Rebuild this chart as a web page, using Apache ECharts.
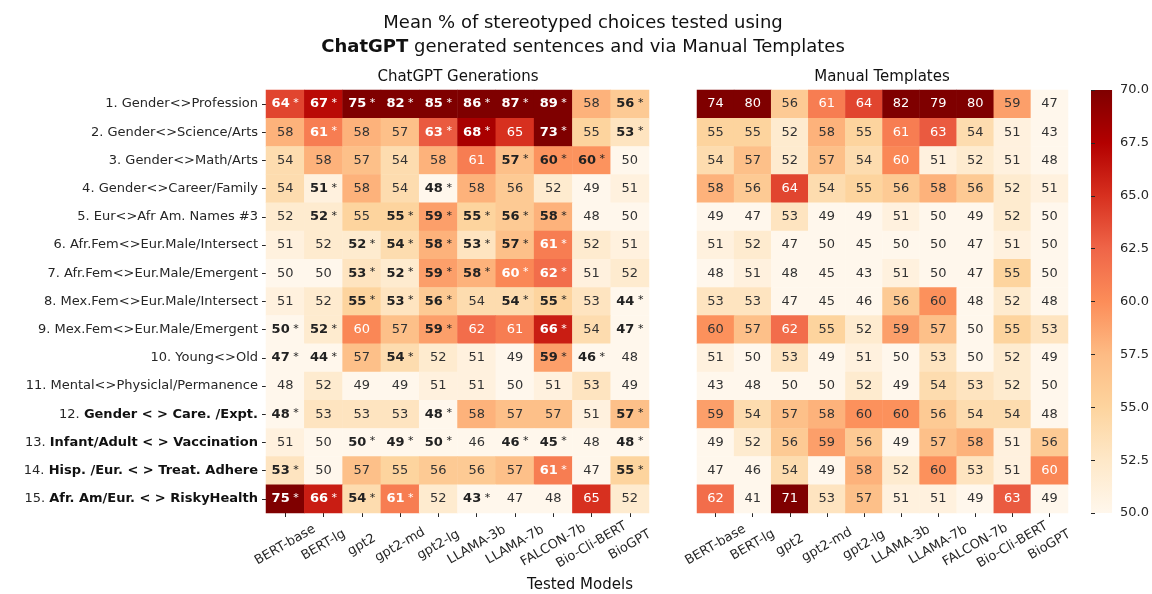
<!DOCTYPE html>
<html>
<head>
<meta charset="utf-8">
<script src="https://cdn.jsdelivr.net/npm/echarts@6/dist/echarts.min.js"></script>
<style>
  html, body { margin: 0; background: #fff; }
  #chart { width: 1152px; height: 594px; }
</style>
</head>
<body>
<div id="chart"></div>
<script>
// models on the x axis (same for both panels)
const models = ["BERT-base", "BERT-lg", "gpt2", "gpt2-md", "gpt2-lg", "LLAMA-3b", "LLAMA-7b", "FALCON-7b", "Bio-Cli-BERT", "BioGPT"];

// tests on the y axis, rows 12-15 have their name in bold
const tests = [
  "1. Gender<>Profession",
  "2. Gender<>Science/Arts",
  "3. Gender<>Math/Arts",
  "4. Gender<>Career/Family",
  "5. Eur<>Afr Am. Names #3",
  "6. Afr.Fem<>Eur.Male/Intersect",
  "7. Afr.Fem<>Eur.Male/Emergent",
  "8. Mex.Fem<>Eur.Male/Intersect",
  "9. Mex.Fem<>Eur.Male/Emergent",
  "10. Young<>Old",
  "11. Mental<>Physiclal/Permanence",
  "12. Gender < > Care. /Expt.",
  "13. Infant/Adult < > Vaccination",
  "14. Hisp. /Eur. < > Treat. Adhere",
  "15. Afr. Am/Eur. < > RiskyHealth"
];
const boldFrom = 11;

// ChatGPT generations: mean % stereotyped choices
const chatVals = [
  [64, 67, 75, 82, 85, 86, 87, 89, 58, 56],
  [58, 61, 58, 57, 63, 68, 65, 73, 55, 53],
  [54, 58, 57, 54, 58, 61, 57, 59.7, 59.7, 50],
  [54, 51, 58, 54, 48, 58, 56, 52, 49, 51],
  [52, 52, 55, 55, 59, 55, 56, 58, 48, 50],
  [51, 52, 52, 54, 58, 53, 57, 61, 52, 51],
  [50, 50, 53, 52, 59, 58, 60.4, 62, 51, 52],
  [51, 52, 55, 53, 56, 54, 54, 55, 53, 44],
  [50, 52, 60.4, 57, 59, 62, 61, 66, 54, 47],
  [47, 44, 57, 54, 52, 51, 49, 59, 46, 48],
  [48, 52, 49, 49, 51, 51, 50, 51, 53, 49],
  [48, 53, 53, 53, 48, 58, 57, 57, 51, 57],
  [51, 50, 50, 49, 50, 46, 46, 45, 48, 48],
  [53, 50, 57, 55, 56, 56, 57, 61, 47, 55],
  [75, 66, 54, 61, 52, 43, 47, 48, 65, 52]
];

// 1 = significant (shown bold with *)
const chatSig = [
  [1, 1, 1, 1, 1, 1, 1, 1, 0, 1],
  [0, 1, 0, 0, 1, 1, 0, 1, 0, 1],
  [0, 0, 0, 0, 0, 0, 1, 1, 1, 0],
  [0, 1, 0, 0, 1, 0, 0, 0, 0, 0],
  [0, 1, 0, 1, 1, 1, 1, 1, 0, 0],
  [0, 0, 1, 1, 1, 1, 1, 1, 0, 0],
  [0, 0, 1, 1, 1, 1, 1, 1, 0, 0],
  [0, 0, 1, 1, 1, 0, 1, 1, 0, 1],
  [1, 1, 0, 0, 1, 0, 0, 1, 0, 1],
  [1, 1, 0, 1, 0, 0, 0, 1, 1, 0],
  [0, 0, 0, 0, 0, 0, 0, 0, 0, 0],
  [1, 0, 0, 0, 1, 0, 0, 0, 0, 1],
  [0, 0, 1, 1, 1, 0, 1, 1, 0, 1],
  [1, 0, 0, 0, 0, 0, 0, 1, 0, 1],
  [1, 1, 1, 1, 0, 1, 0, 0, 0, 0]
];

// Manual templates
const manualVals = [
  [74, 80, 56, 61, 64, 82, 79, 80, 59, 47],
  [55, 55, 52, 58, 55, 61, 63, 54, 51, 43],
  [54, 57, 52, 57, 54, 60.4, 51, 52, 51, 48],
  [58, 56, 64, 54, 55, 56, 58, 56, 52, 51],
  [49, 47, 53, 49, 49, 51, 50, 49, 52, 50],
  [51, 52, 47, 50, 45, 50, 50, 47, 51, 50],
  [48, 51, 48, 45, 43, 51, 50, 47, 55, 50],
  [53, 53, 47, 45, 46, 56, 59.8, 48, 52, 48],
  [59.8, 57, 62, 55, 52, 59, 57, 50, 55, 53],
  [51, 50, 53, 49, 51, 50, 53, 50, 52, 49],
  [43, 48, 50, 50, 52, 49, 54, 53, 52, 50],
  [59, 54, 57, 58, 59.8, 59.8, 56, 54, 54, 48],
  [49, 52, 56, 59, 56, 49, 57, 58, 51, 56],
  [47, 46, 54, 49, 58, 52, 59.8, 53, 51, 60.4],
  [62, 41, 71, 53, 57, 51, 51, 49, 63, 49]
];

// colour bar range and ticks
const cbMin = 50;
const cbMax = 70;
const cbStep = 2.5;

const orRd = ["#fff7ec", "#fee8c8", "#fdd49e", "#fdbb84", "#fc8d59", "#ef6548", "#d7301f", "#b30000", "#7f0000"];
const darkText = "#262626";
const font = "DejaVu Sans";
const hiddenLine = { show: true, lineStyle: { color: "rgba(0,0,0,0)" } };

function toCells(vals) {
  const out = [];
  vals.forEach((row, r) => {
    row.forEach((v, c) => {
      out.push([c, r, v, Math.min(cbMax, Math.max(cbMin, v))]);
    });
  });
  return out;
}

function cellLabel(sig) {
  return function (p) {
    const v = p.data[2];
    const c = p.data[0];
    const r = p.data[1];
    const light = v > 60.2;
    const n = Math.round(v);
    if (sig && sig[r][c]) {
      return light ? "{bw|" + n + "}{aw| *}" : "{bd|" + n + "}{ad| *}";
    }
    return light ? "{nw|" + n + "}" : "{nd|" + n + "}";
  };
}

const labelRich = {
  nd: { color: "#333", fontSize: 13, fontFamily: font },
  nw: { color: "#fff", fontSize: 13, fontFamily: font },
  bd: { color: "#222", fontSize: 13, fontWeight: "bold", fontFamily: font },
  bw: { color: "#fff", fontSize: 13, fontWeight: "bold", fontFamily: font },
  ad: { color: "#222", fontSize: 11, fontFamily: font, padding: [0, 0, 2, 0] },
  aw: { color: "#fff", fontSize: 11, fontFamily: font, padding: [0, 0, 2, 0] }
};

function xAxisFor(gridIndex) {
  return {
    type: "category",
    gridIndex: gridIndex,
    data: models,
    axisLine: hiddenLine,
    axisTick: { show: true, length: 4, alignWithLabel: true, lineStyle: { color: darkText } },
    axisLabel: {
      rotate: 30,
      align: "center",
      verticalAlign: "middle",
      margin: 32,
      interval: 0,
      fontSize: 13,
      fontFamily: font,
      color: darkText
    },
    splitLine: { show: false }
  };
}

const chart = echarts.init(document.getElementById("chart"));

const option = {
  animation: false,
  backgroundColor: "#fff",
  textStyle: { fontFamily: font },
  title: [
    {
      text: "Mean % of stereotyped choices tested using\n{b|ChatGPT} generated sentences and via Manual Templates",
      left: 583,
      top: 11,
      padding: 0,
      textAlign: "center",
      textStyle: {
        fontSize: 18,
        fontWeight: "normal",
        lineHeight: 24,
        color: "#111",
        fontFamily: font,
        rich: { b: { fontSize: 18, lineHeight: 24, fontWeight: "bold", color: "#111", fontFamily: font } }
      }
    },
    {
      text: "ChatGPT Generations",
      left: 458,
      top: 70,
      padding: 0,
      textAlign: "center",
      textStyle: { fontSize: 15, fontWeight: "normal", color: "#111", fontFamily: font }
    },
    {
      text: "Manual Templates",
      left: 882,
      top: 70,
      padding: 0,
      textAlign: "center",
      textStyle: { fontSize: 15, fontWeight: "normal", color: "#111", fontFamily: font }
    },
    {
      text: "Tested Models",
      left: 580,
      top: 578,
      padding: 0,
      textAlign: "center",
      textStyle: { fontSize: 15, fontWeight: "normal", color: "#111", fontFamily: font }
    }
  ],
  grid: [
    { left: 266, top: 90, width: 383, height: 423 },
    { left: 697, top: 90, width: 371, height: 423 },
    {
      left: 1091, top: 90, width: 22, height: 423,
      show: true,
      borderWidth: 0,
      backgroundColor: {
        type: "linear", x: 0, y: 1, x2: 0, y2: 0,
        colorStops: orRd.map((col, i) => ({ offset: i / (orRd.length - 1), color: col }))
      }
    }
  ],
  xAxis: [
    xAxisFor(0),
    xAxisFor(1),
    { type: "value", gridIndex: 2, show: false }
  ],
  yAxis: [
    {
      type: "category",
      gridIndex: 0,
      data: tests,
      inverse: true,
      axisLine: hiddenLine,
      axisTick: { show: true, length: 4, alignWithLabel: true, lineStyle: { color: darkText } },
      axisLabel: {
        interval: 0,
        margin: 8,
        fontSize: 13,
        fontFamily: font,
        color: darkText,
        formatter: function (value, index) {
          if (index < boldFrom) return "{n|" + value + "}";
          const cut = value.indexOf(". ");
          return "{n|" + value.slice(0, cut + 2) + "}{b|" + value.slice(cut + 2) + "}";
        },
        rich: {
          n: { fontSize: 13, fontFamily: font, color: darkText },
          b: { fontSize: 13, fontFamily: font, fontWeight: "bold", color: "#111" }
        }
      }
    },
    {
      type: "category",
      gridIndex: 1,
      data: tests,
      inverse: true,
      axisLine: { show: false },
      axisTick: { show: false },
      axisLabel: { show: false }
    },
    {
      type: "value",
      gridIndex: 2,
      position: "right",
      min: cbMin,
      max: cbMax,
      interval: cbStep,
      axisLine: hiddenLine,
      axisTick: { show: true, length: 4, lineStyle: { color: darkText } },
      splitLine: { show: false },
      axisLabel: {
        margin: 8,
        fontSize: 13,
        fontFamily: font,
        color: darkText,
        formatter: function (v) { return v.toFixed(1); }
      }
    }
  ],
  visualMap: {
    type: "continuous",
    show: false,
    min: cbMin,
    max: cbMax,
    dimension: 3,
    seriesIndex: [0, 1],
    inRange: { color: orRd }
  },
  series: [
    {
      name: "ChatGPT Generations",
      type: "heatmap",
      xAxisIndex: 0,
      yAxisIndex: 0,
      data: toCells(chatVals),
      label: { show: true, formatter: cellLabel(chatSig), rich: labelRich },
      itemStyle: { borderWidth: 0 }
    },
    {
      name: "Manual Templates",
      type: "heatmap",
      xAxisIndex: 1,
      yAxisIndex: 1,
      data: toCells(manualVals),
      label: { show: true, formatter: cellLabel(null), rich: labelRich },
      itemStyle: { borderWidth: 0 }
    }
  ]
};

chart.setOption(option);
</script>
</body>
</html>
